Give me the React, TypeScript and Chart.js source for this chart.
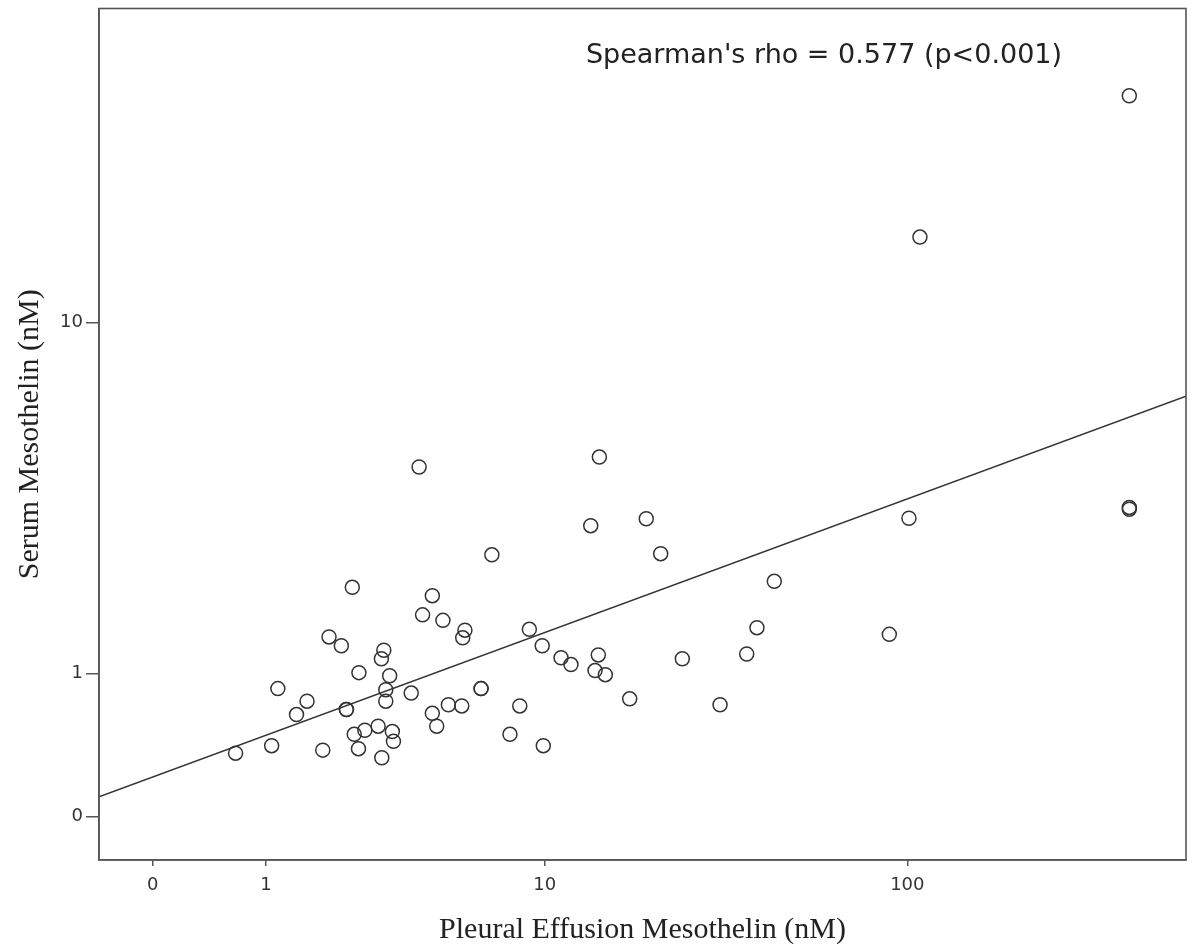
import React, { useEffect, useRef } from "react";
import { Chart, registerables } from "chart.js";

Chart.register(...registerables);

// Pleural effusion mesothelin (nM) for each patient
const pleuralValues: number[] = [
  0.66, 1.07, 1.15, 1.41, 1.57, 1.83, 1.94, 2.17, 2.27, 2.27,
  2.39, 2.43, 2.53, 2.52, 2.66, 2.97, 3.06, 3.05, 3.11, 3.16,
  3.16, 3.26, 3.33, 3.36, 3.86, 4.1, 4.21, 4.53, 4.53, 4.68,
  4.9, 5.1, 5.62, 5.66, 5.75, 6.45, 6.45, 6.96, 7.89, 8.44,
  9.01, 9.83, 9.9, 11.15, 11.91, 13.57, 13.96, 14.26, 14.36, 14.93,
  17.49, 19.46, 21.35, 24.51, 31.13, 36.82, 39.27, 43.77, 89.47, 101.0,
  108.1, 391.6, 391.6, 391.6,
];
// Serum mesothelin (nM) for each patient
const serumValues: number[] = [
  0.36, 0.41, 0.86, 0.64, 0.75, 0.38, 1.39, 1.29, 0.68, 0.68,
  2.04, 0.49, 1.01, 0.39, 0.52, 0.55, 0.33, 1.15, 1.24, 0.85,
  0.75, 0.98, 0.51, 0.44, 0.82, 4.45, 1.66, 0.65, 1.92, 0.55,
  1.59, 0.72, 0.71, 1.38, 1.47, 0.86, 0.86, 2.56, 0.49, 0.71,
  1.48, 1.29, 0.41, 1.16, 1.09, 3.1, 1.03, 1.19, 4.72, 0.99,
  0.77, 3.24, 2.58, 1.15, 0.72, 1.2, 1.5, 2.13, 1.42, 3.25,
  15.63, 32.01, 3.48, 3.44,
];

// Tick labels (nM) on both log(x+1) axes
const xTickLabels: number[] = [0, 1, 10, 100];
const yTickLabels: number[] = [0, 1, 10];

// Fit line in log10(value+1) space
const fitIntercept = 0.0834;
const fitSlope = 0.2923;

const axisTitleX = "Pleural Effusion Mesothelin (nM)";
const axisTitleY = "Serum Mesothelin (nM)";
const annotation = "Spearman's rho = 0.577 (p<0.001)";

const tf = (v: number) => Math.log10(v + 1);

const X_MIN = -0.1426;
const X_MAX = 2.7445;
const Y_MIN = -0.0916;
const Y_MAX = 1.7025;

const INK = "#333333";
const FRAME = "#555555";

export default function App() {
  const ref = useRef<HTMLCanvasElement | null>(null);

  useEffect(() => {
    document.body.style.margin = "0";
    const canvas = ref.current;
    if (!canvas) return;

    const points = pleuralValues.map((p, i) => ({ x: tf(p), y: tf(serumValues[i]) }));
    const linePts = [
      { x: X_MIN, y: fitIntercept + fitSlope * X_MIN },
      { x: X_MAX, y: fitIntercept + fitSlope * X_MAX },
    ];

    const decor = {
      id: "decor",
      afterDraw(chart: any) {
        const { ctx, chartArea } = chart;
        const { left, right, top, bottom } = chartArea;
        ctx.save();
        ctx.strokeStyle = FRAME;
        ctx.lineWidth = 1.6;
        ctx.strokeRect(left, top, right - left, bottom - top);

        ctx.fillStyle = "#222";
        ctx.font = '30px "Liberation Serif", "Times New Roman", serif';
        ctx.textAlign = "center";
        ctx.textBaseline = "middle";
        ctx.fillText(axisTitleX, (left + right) / 2, 930);

        ctx.save();
        ctx.translate(30, (top + bottom) / 2);
        ctx.rotate(-Math.PI / 2);
        ctx.fillText(axisTitleY, 0, 0);
        ctx.restore();

        ctx.font = '27px "DejaVu Sans", sans-serif';
        ctx.fillStyle = "#222";
        ctx.fillText(annotation, 824, 56);
        ctx.restore();
      },
    };

    const chart = new Chart(canvas, {
      type: "scatter",
      data: {
        datasets: [
          {
            type: "scatter",
            data: points,
            pointRadius: 7,
            pointHoverRadius: 7,
            pointBorderWidth: 1.5,
            pointBorderColor: INK,
            pointBackgroundColor: "rgba(0,0,0,0)",
            order: 2,
          } as any,
          {
            type: "line",
            data: linePts,
            borderColor: INK,
            borderWidth: 1.5,
            pointRadius: 0,
            fill: false,
            order: 1,
          } as any,
        ],
      },
      plugins: [decor],
      options: {
        responsive: false,
        animation: false,
        events: [],
        layout: { padding: { left: 0, top: 8, right: 14, bottom: 0 } },
        plugins: { legend: { display: false }, tooltip: { enabled: false } },
        scales: {
          x: {
            type: "linear",
            min: X_MIN,
            max: X_MAX,
            afterBuildTicks: (scale: any) => {
              scale.ticks = xTickLabels.map((v) => ({ value: tf(v) }));
            },
            afterFit: (scale: any) => {
              scale.height = 91;
              scale.paddingLeft = 0;
              scale.paddingRight = 0;
            },
            ticks: {
              autoSkip: false,
              maxRotation: 0,
              padding: 9,
              color: INK,
              font: { family: '"DejaVu Sans", sans-serif', size: 18 },
              callback: (_v: any, i: number) => String(xTickLabels[i]),
            },
            grid: {
              display: true,
              drawOnChartArea: false,
              drawTicks: true,
              tickLength: 6,
              color: FRAME,
              lineWidth: 1.5,
            },
            border: { display: true, color: FRAME, width: 1.6 },
          },
          y: {
            type: "linear",
            min: Y_MIN,
            max: Y_MAX,
            afterBuildTicks: (scale: any) => {
              scale.ticks = yTickLabels.map((v) => ({ value: tf(v) }));
            },
            afterFit: (scale: any) => {
              scale.width = 99;
              scale.paddingTop = 0;
              scale.paddingBottom = 0;
            },
            ticks: {
              autoSkip: false,
              padding: 3,
              color: INK,
              font: { family: '"DejaVu Sans", sans-serif', size: 18 },
              callback: (_v: any, i: number) => String(yTickLabels[i]),
            },
            grid: {
              display: true,
              drawOnChartArea: false,
              drawTicks: true,
              tickLength: 13,
              color: FRAME,
              lineWidth: 1.5,
            },
            border: { display: true, color: FRAME, width: 1.6 },
          },
        },
      },
    });

    return () => chart.destroy();
  }, []);

  return (
    <div style={{ width: 1200, height: 951, background: "#fff" }}>
      <canvas ref={ref} width={1200} height={951} style={{ display: "block" }} />
    </div>
  );
}
